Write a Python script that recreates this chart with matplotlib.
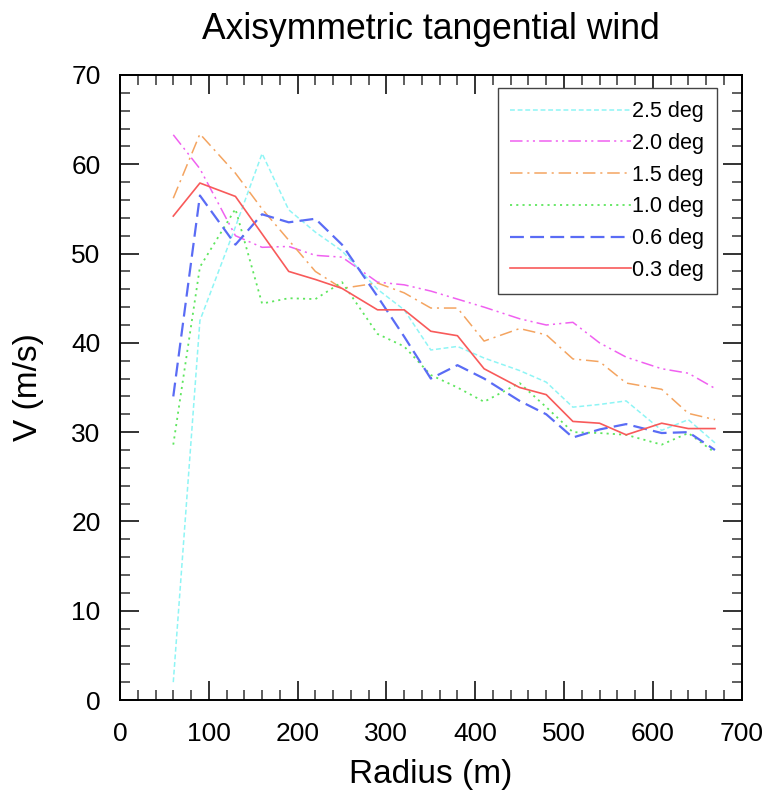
import matplotlib
matplotlib.use('Agg')
import matplotlib.pyplot as plt
from matplotlib.ticker import MultipleLocator

plt.rcParams['font.family'] = ['Liberation Sans', 'DejaVu Sans']
plt.rcParams['lines.scale_dashes'] = False

# radius (m)
radius = [60, 90, 130, 160, 190, 220, 250, 290, 320, 350,
          380, 410, 450, 480, 510, 540, 570, 610, 640, 670]

# tangential wind (m/s) for each grid spacing
v_25 = [2.0, 42.5, 53.0, 61.2, 54.9, 52.4, 50.3, 46.0, 43.7, 39.2,
        39.6, 38.3, 36.9, 35.6, 32.8, 33.1, 33.5, 30.2, 31.4, 28.8]
v_20 = [63.3, 59.5, 52.0, 50.7, 50.8, 49.8, 49.6, 46.8, 46.5, 45.8,
        44.9, 44.0, 42.7, 42.0, 42.3, 40.0, 38.4, 37.1, 36.6, 34.9]
v_15 = [56.2, 63.4, 59.0, 55.0, 51.5, 48.0, 46.1, 46.7, 45.6, 43.9,
        43.9, 40.2, 41.6, 40.9, 38.2, 37.9, 35.5, 34.8, 32.1, 31.4]
v_10 = [28.6, 48.5, 55.0, 44.4, 45.0, 44.9, 46.8, 41.0, 39.6, 36.4,
        35.0, 33.4, 35.5, 32.8, 30.0, 29.9, 29.7, 28.6, 29.9, 27.7]
v_06 = [34.0, 56.5, 51.0, 54.4, 53.5, 53.9, 51.0, 45.2, 40.7, 36.0,
        37.5, 36.0, 33.5, 32.0, 29.4, 30.3, 30.9, 29.9, 30.0, 28.0]
v_03 = [54.2, 57.9, 56.4, 52.2, 48.0, 47.1, 46.1, 43.7, 43.7, 41.3,
        40.8, 37.1, 35.0, 34.2, 31.2, 31.0, 29.7, 31.0, 30.4, 30.4]

labels = ['2.5 deg', '2.0 deg', '1.5 deg', '1.0 deg', '0.6 deg', '0.3 deg']
series = [v_25, v_20, v_15, v_10, v_06, v_03]
colors = ['#8ef5f5', '#f060f0', '#f4a460', '#5ee65e', '#5a6cf5', '#f85a5a']
dashes = [(3.5, 2), (9, 3, 1.5, 3, 1.5, 3), (9, 3.5, 1.5, 3.5), (1.5, 3),
          (10, 4.5), None]
widths = [1.1, 1.1, 1.1, 1.3, 1.6, 1.2]

fig = plt.figure(figsize=(7.72, 8.02), dpi=100)
ax = fig.add_axes([120 / 772, 102 / 802, 621.6 / 772, 625 / 802])

for y, lab, c, d, w in zip(series, labels, colors, dashes, widths):
    line, = ax.plot(radius, y, color=c, lw=w, label=lab)
    if d is not None:
        line.set_dashes(d)

ax.set_xlim(0, 700)
ax.set_ylim(0, 70)
ax.xaxis.set_major_locator(MultipleLocator(100))
ax.xaxis.set_minor_locator(MultipleLocator(20))
ax.yaxis.set_major_locator(MultipleLocator(10))
ax.yaxis.set_minor_locator(MultipleLocator(2))
ax.tick_params(which='both', direction='in', top=True, right=True,
               color='#333333')
ax.tick_params(which='major', length=14, width=1.4, labelsize=19)
ax.tick_params(which='minor', length=7, width=1.1)
ax.tick_params(axis='x', which='major', pad=16)
ax.tick_params(axis='y', which='major', pad=14)
for s in ax.spines.values():
    s.set_linewidth(1.4)

ax.set_title('Axisymmetric tangential wind', fontsize=25.6, pad=26)
ax.set_xlabel('Radius (m)', fontsize=24)
ax.set_ylabel('V (m/s)', fontsize=24)
ax.xaxis.set_label_coords(0.5, -0.12)
ax.xaxis.label.set_va('center')
ax.yaxis.set_label_coords(-0.148, 0.5)
ax.yaxis.label.set_va('center')

leg = ax.legend(loc='upper right', bbox_to_anchor=(0.9604, 0.979),
                fontsize=15.5, handlelength=5.6, handletextpad=0.05,
                labelspacing=0.5, borderpad=0.6, borderaxespad=0,
                fancybox=False, framealpha=1, edgecolor='#444444')
leg.get_frame().set_linewidth(1.0)

fig.savefig('out.png', dpi=100)
